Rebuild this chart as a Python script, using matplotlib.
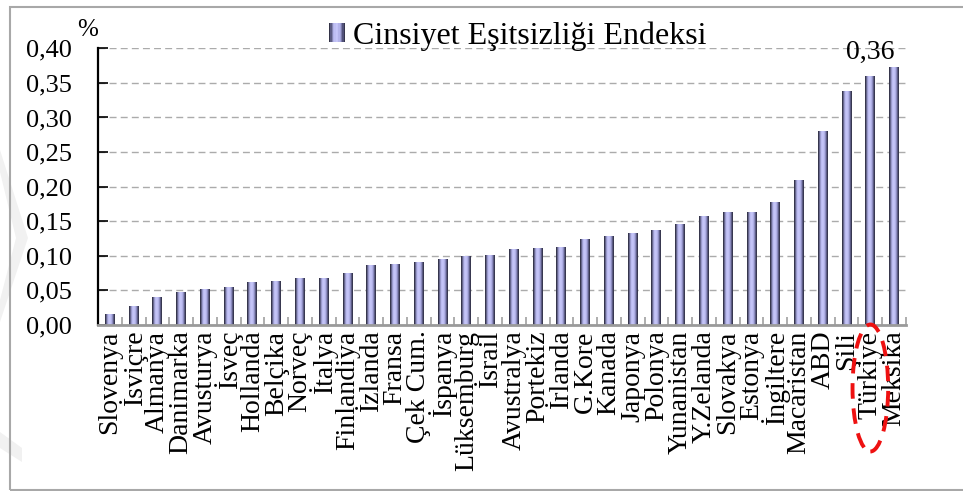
import numpy as np
import matplotlib
matplotlib.use("Agg")
import matplotlib.pyplot as plt
from matplotlib.patches import Rectangle, Ellipse, Polygon
from matplotlib.colors import LinearSegmentedColormap
from matplotlib.legend_handler import HandlerBase
from matplotlib.transforms import blended_transform_factory

countries = ["Slovenya", "İsviçre", "Almanya", "Danimarka", "Avusturya", "İsveç",
             "Hollanda", "Belçika", "Norveç", "İtalya", "Finlandiya", "İzlanda",
             "Fransa", "Çek Cum.", "İspanya", "Lüksemburg", "İsrail", "Avustralya",
             "Portekiz", "İrlanda", "G.Kore", "Kanada", "Japonya", "Polonya",
             "Yunanistan", "Y.Zelanda", "Slovakya", "Estonya", "İngiltere",
             "Macaristan", "ABD", "Şili", "Türkiye", "Meksika"]
values = [0.016, 0.028, 0.041, 0.048, 0.052, 0.055, 0.062, 0.064, 0.068, 0.068,
          0.075, 0.087, 0.088, 0.091, 0.095, 0.100, 0.101, 0.110, 0.111, 0.113,
          0.124, 0.129, 0.133, 0.137, 0.146, 0.158, 0.163, 0.163, 0.178, 0.210,
          0.280, 0.338, 0.360, 0.373]
yticks = [0.00, 0.05, 0.10, 0.15, 0.20, 0.25, 0.30, 0.35, 0.40]
ytick_labels = ["0,00", "0,05", "0,10", "0,15", "0,20", "0,25", "0,30", "0,35", "0,40"]
series_name = "Cinsiyet Eşitsizliği Endeksi"
highlight = "Türkiye"
highlight_label = "0,36"

plt.rcParams['font.family'] = ['Liberation Serif', 'DejaVu Serif']

W, H = 963, 491
fig = plt.figure(figsize=(W / 100, H / 100), dpi=100)

# faint watermark shapes at left
fig.patches.append(Polygon([(0, 1 - 150 / H), (0, 1 - 172 / H), (16 / W, 1 - 238 / H),
                            (0, 1 - 300 / H), (0, 1 - 322 / H), (28 / W, 1 - 238 / H)],
                           closed=True, transform=fig.transFigure, facecolor="#f1f1f1",
                           edgecolor="none", zorder=0))
fig.patches.append(Polygon([(0, 1 - 432 / H), (0, 1 - 448 / H), (22 / W, 1 - 462 / H),
                            (22 / W, 1 - 448 / H)],
                           closed=True, transform=fig.transFigure, facecolor="#f1f1f1",
                           edgecolor="none", zorder=0))
# outer border
fig.patches.append(Rectangle((10 / W, 1 - 490 / H), (W + 20) / W, (490 - 7) / H,
                             transform=fig.transFigure, facecolor="none",
                             edgecolor="#a8a8a8", linewidth=1.5, zorder=1))

ax = fig.add_axes([98 / W, 1 - 325 / H, (906 - 98) / W, (325 - 48.3) / H])
ax.patch.set_alpha(0)

x = np.arange(len(countries))
bar_w = 0.42
bars = ax.bar(x, values, width=bar_w, color="none", edgecolor="none", zorder=3)

cmap = LinearSegmentedColormap.from_list(
    "cyl", [(0.0, "#20202c"), (0.12, "#5a5a80"), (0.3, "#b8b8ee"), (0.5, "#cacafc"),
            (0.7, "#a8a8e0"), (0.88, "#505078"), (1.0, "#2a2a38")])
grad = np.linspace(0, 1, 64).reshape(1, -1)
for b in bars:
    x0 = b.get_x()
    im = ax.imshow(grad, extent=[x0, x0 + b.get_width(), 0, b.get_height()],
                   aspect="auto", cmap=cmap, zorder=3, interpolation="bilinear")
    im.set_clip_path(b)

ax.set_xlim(-0.5, len(countries) - 0.5)
ax.set_ylim(0, 0.40)
ax.set_aspect("auto")

ax.set_yticks(yticks)
ax.set_yticklabels(ytick_labels, fontsize=19)
ax.yaxis.grid(True, color="#ababab", linestyle=(0, (5, 3)), linewidth=1.0, zorder=0)
ax.tick_params(axis="y", direction="in", length=7, width=1.2, color="black", pad=18.5)

ax.set_xticks(x)
ax.set_xticklabels(countries, rotation=90, fontsize=20, va="top", ha="center")
ax.tick_params(axis="x", which="major", length=0, pad=4)
ax.set_xticks(np.arange(-0.5, len(countries), 1.0), minor=True)
ax.tick_params(axis="x", which="minor", direction="in", length=6, width=1.2, color="#a0a0a0")

for s in ["top", "right"]:
    ax.spines[s].set_visible(False)
ax.spines["left"].set_color("black")
ax.spines["left"].set_linewidth(1.6)
ax.spines["bottom"].set_color("#9a9a9a")
ax.spines["bottom"].set_linewidth(2.0)
ax.spines["left"].set_zorder(4)
ax.spines["bottom"].set_zorder(4)

# percent sign
fig.text(77 / W, 1 - 30 / H, "%", fontsize=18, ha="left", va="center")

# highlight annotation
hi = countries.index(highlight)
ax.annotate(highlight_label, xy=(hi, values[hi]), xytext=(0, 8), textcoords="offset points",
            ha="center", va="bottom", fontsize=20)

# red dashed ellipse around highlighted label
tr = blended_transform_factory(ax.transData, fig.transFigure)
ell = Ellipse((hi, 1 - 388 / H), width=1.5, height=127 / H, transform=tr,
              facecolor="none", edgecolor="#ee1111", linewidth=2.8,
              linestyle=(0, (4, 2.5)), clip_on=False, zorder=5)
ax.add_artist(ell)


class GradientHandler(HandlerBase):
    def create_artists(self, legend, orig_handle, xdescent, ydescent, width, height,
                       fontsize, trans):
        arts = []
        n = 12
        for i in range(n):
            c = cmap((i + 0.5) / n)
            arts.append(Rectangle((-xdescent + width * i / n, -ydescent), width / n, height,
                                  facecolor=c, edgecolor="none", transform=trans))
        return arts


proxy = Rectangle((0, 0), 1, 1)
fig.legend([proxy], [series_name], handler_map={Rectangle: GradientHandler()},
           loc="center left", bbox_to_anchor=(329 / W, 1 - 36 / H), frameon=False,
           fontsize=23, handlelength=0.5, handleheight=0.55, handletextpad=0.25,
           borderpad=0, borderaxespad=0)

fig.savefig("out.png", dpi=100)
